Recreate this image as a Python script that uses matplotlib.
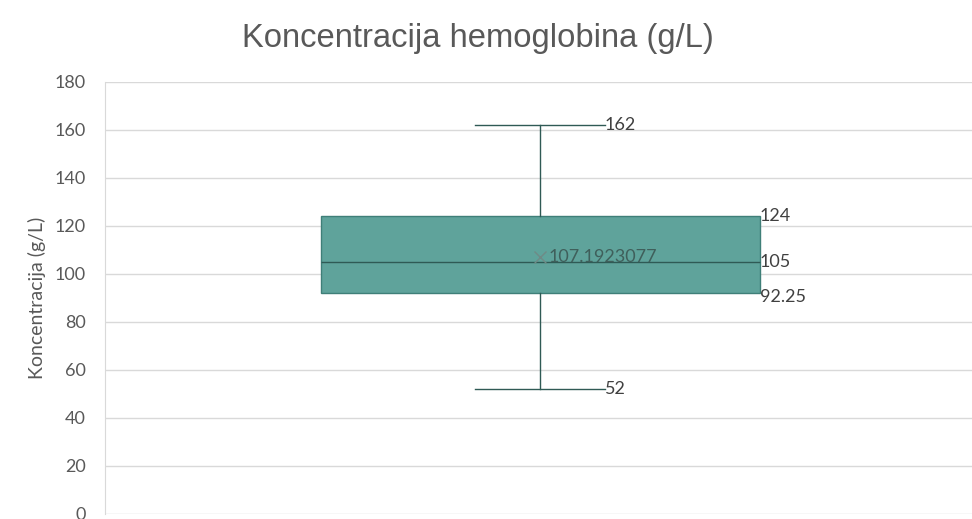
import matplotlib.pyplot as plt

plt.rcParams['font.family'] = ['Lato', 'DejaVu Sans']

# box plot summary values
title = "Koncentracija hemoglobina (g/L)"
ylabel = "Koncentracija (g/L)"
stat_min = 52
stat_q1 = 92.25
stat_median = 105
stat_q3 = 124
stat_max = 162
stat_mean = 107.1923077
y_ticks = [0, 20, 40, 60, 80, 100, 120, 140, 160, 180]

fig = plt.figure(figsize=(9.72, 5.19), dpi=100)
ax = fig.add_axes([105 / 972, 5 / 519, 867 / 972, 432 / 519])

stats = [{
    'med': stat_median, 'q1': stat_q1, 'q3': stat_q3,
    'whislo': stat_min, 'whishi': stat_max, 'mean': stat_mean,
    'fliers': [],
}]

box_w = 1.0
cap_w = 0.294
line_c = '#2f5a55'
ax.bxp(stats, positions=[1], widths=box_w, capwidths=cap_w, showmeans=True,
       patch_artist=True, zorder=3,
       boxprops=dict(facecolor='#5fa39b', edgecolor='#3f7f78', linewidth=1.0),
       medianprops=dict(color=line_c, linewidth=1.0),
       whiskerprops=dict(color=line_c, linewidth=1.0),
       capprops=dict(color=line_c, linewidth=1.0),
       meanprops=dict(marker='x', markeredgecolor='#6f8a86', markersize=8,
                      markeredgewidth=1.0))

ax.set_xlim(1 - 435 / 439, 1 + 432 / 439)
ax.set_ylim(0, 180)
ax.set_yticks(y_ticks)
ax.set_xticks([])
ax.grid(axis='y', color='#d9d9d9', linewidth=1.0, zorder=0)
for s in ['top', 'right', 'bottom']:
    ax.spines[s].set_visible(False)
ax.spines['left'].set_color('#d9d9d9')
ax.tick_params(axis='y', length=0, labelsize=13, labelcolor='#595959', pad=14)

lbl = dict(fontsize=13, color='#404040', va='center', ha='left', zorder=5)
ax.text(1 + cap_w / 2, stat_max, f"{stat_max}", **lbl)
ax.text(1 + cap_w / 2, stat_min, f"{stat_min}", **lbl)
ax.text(1 + box_w / 2, stat_q3, f"{stat_q3}", **lbl)
ax.text(1 + box_w / 2, stat_median, f"{stat_median}", **lbl)
ax.annotate(f"{stat_q1}", (1 + box_w / 2, stat_q1), xytext=(0, -3),
            textcoords='offset points', **lbl)
ax.annotate(f"{stat_mean}", (1, stat_mean), xytext=(6, 0),
            textcoords='offset points', fontsize=13, color='#3f5f5b',
            va='center', ha='left', zorder=5)

ax.set_ylabel(ylabel, fontsize=14, color='#595959', labelpad=6)
fig.text(478 / 972, 1 - 38 / 519, title, fontsize=23.6, color='#595959',
         ha='center', va='center', family=['Liberation Sans', 'DejaVu Sans'])

fig.savefig('out.png', dpi=100)
